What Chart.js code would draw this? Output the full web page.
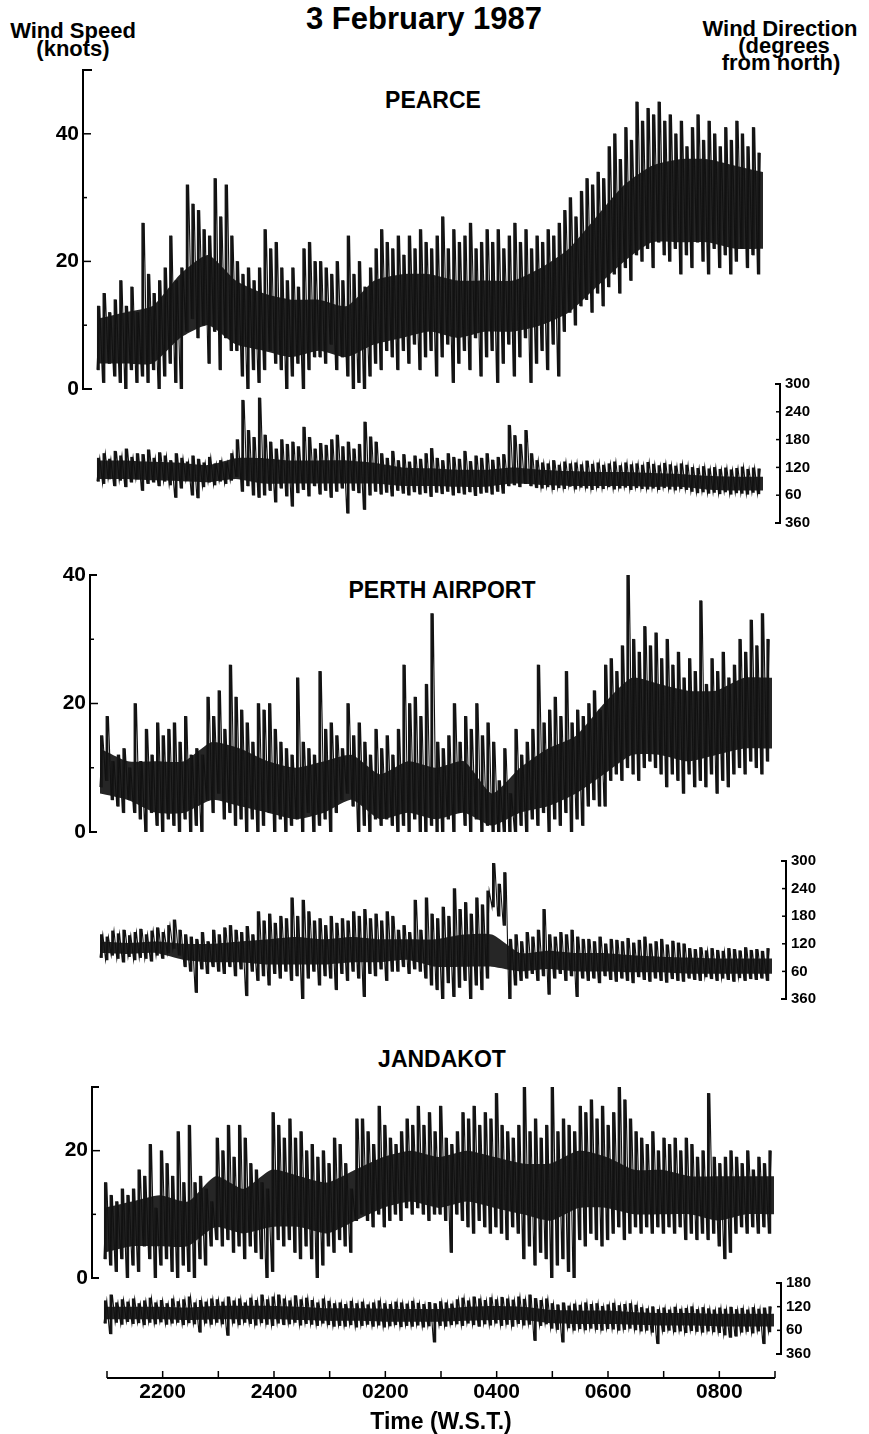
<!DOCTYPE html>
<html><head><meta charset="utf-8">
<script src="https://cdn.jsdelivr.net/npm/chart.js@4.4.0/dist/chart.umd.min.js"></script>
<style>
html,body{margin:0;padding:0;background:#fff;}
body{width:869px;height:1434px;position:relative;overflow:hidden;font-family:"Liberation Sans",Arial,sans-serif;font-weight:bold;color:#000;}
canvas{position:absolute;left:0;}
.t{position:absolute;white-space:nowrap;transform:translateX(-50%);line-height:1;}
</style></head><body>
<div class="t" style="left:424px;top:3px;font-size:31px">3 February 1987</div>
<div class="t" style="left:73px;top:20px;font-size:22px">Wind Speed</div>
<div class="t" style="left:73px;top:38px;font-size:22px">(knots)</div>
<div class="t" style="left:780px;top:18px;font-size:22px">Wind Direction</div>
<div class="t" style="left:784px;top:35px;font-size:22px">(degrees</div>
<div class="t" style="left:781px;top:52px;font-size:22px">from north)</div>
<div class="t" style="left:433px;top:89px;font-size:23px">PEARCE</div>
<div class="t" style="left:442px;top:579px;font-size:23px">PERTH AIRPORT</div>
<div class="t" style="left:442px;top:1048px;font-size:23px">JANDAKOT</div>

<canvas id="c1s" width="869" height="359" style="top:50px"></canvas>
<canvas id="c1d" width="869" height="179" style="top:364px"></canvas>
<canvas id="c2s" width="869" height="297" style="top:555px"></canvas>
<canvas id="c2d" width="869" height="178" style="top:841px"></canvas>
<canvas id="c3s" width="869" height="231" style="top:1067px"></canvas>
<canvas id="c3d" width="869" height="111" style="top:1263px"></canvas>
<canvas id="ct" width="869" height="94" style="top:1340px"></canvas>

<script>
// ---- time span of the records (hours; 24 = midnight, 33 = 0900 next day)
const startHour = 21, endHour = 33;

// ---- time axis
const timeAxisHours = [21,22,23,24,25,26,27,28,29,30,31,32,33];
const timeTickHours = [22,24,26,28,30,32];
const timeTickLabels = ['2200','2400','0200','0400','0600','0800'];

// ---- axis tick values
const pearceSpeedLabels = [0,20,40];
const pearceSpeedMinor = [10,30];
const perthSpeedLabels = [0,20,40];
const perthSpeedMinor = [10,30];
const jandakotSpeedLabels = [0,20];
const jandakotSpeedMinor = [10];
const dirTicks300 = [60,120,180,240];
const dirTicks180 = [60,120];

// ---- PEARCE wind speed (knots), per 6-minute bin: low and high of the trace
const pearceSpeedHi = [13,15,12,14,17,13,16,12,26,18, 15,17,19,24,17,19,32,29,28,25,
 24,33,27,32,24,20,18,19,17,19, 25,22,23,19,17,19,16,22,23,20, 20,19,18,20,17,24,18,20,16,19,
 22,25,23,22,24,21,24,22,25,23, 22,24,27,22,25,23,24,26,22,23, 25,23,25,22,24,26,23,25,22,24,
 23,25,24,26,28,30,27,31,33,32, 34,33,38,40,36,41,39,45,42,44, 43,45,42,43,40,42,38,41,43,39,
 42,40,38,41,39,42,40,38,41,37];
const pearceSpeedLo = [3,1,4,2,1,0,3,1,2,1, 3,0,2,4,1,0,9,11,8,10, 4,9,3,8,6,6,2,0,3,1,
 3,6,4,3,0,2,4,0,3,5, 5,4,7,3,5,2,0,1,0,2, 4,3,6,5,3,6,4,7,3,5, 6,2,5,7,1,4,6,3,8,2,
 5,6,1,4,7,2,5,8,1,4, 6,3,7,2,9,12,10,13,14,12, 15,13,16,18,15,19,17,21,20,22,
 19,23,21,20,22,18,21,19,23,20, 18,22,19,21,18,20,22,19,21,18];
// dense core of the trace, every 30 minutes from 2100 to 0900
const pearceSpeedCoreLo = [4,4,4,8,10,7,6,5,6,5,7,8,9,8,9,9,10,12,16,20,23,23,23,22,22];
const pearceSpeedCoreHi = [11,12,13,18,21,17,15,14,14,13,17,18,18,17,17,17,19,22,27,32,35,36,36,35,34];

// ---- PEARCE wind direction (degrees)
const pearceDirHi = [140,150,138,155,145,160,142,150,148,158, 140,152,145,135,150,140,132,145,138,130,
 142,128,135,130,150,180,265,200,185,270, 190,175,160,180,170,175,165,207,185,160,
 172,168,180,190,165,175,160,170,218,186, 175,150,140,155,135,148,132,145,138,150,
 161,140,135,150,142,138,155,133,145,140, 150,136,142,148,211,189,170,200,150,135,
 130,128,135,125,132,128,130,126,134,127, 130,125,128,132,124,130,126,128,125,131,
 127,124,129,126,123,128,125,120,118,122, 117,120,116,119,115,118,121,116,119,117];
const pearceDirLo = [90,85,95,80,92,78,88,95,70,85, 88,80,90,82,55,75,92,60,54,78,
 88,82,90,85,92,100,68,80,60,55, 60,70,45,75,58,36,65,72,58,80,
 62,70,55,68,75,21,70,65,29,60, 68,62,66,58,70,64,60,67,62,65,
 57,66,63,68,60,65,62,67,59,64, 66,62,68,64,80,82,78,85,80,76,
 75,78,72,76,74,79,73,77,75,72, 76,74,78,73,75,77,72,76,74,73,
 75,72,76,73,71,74,72,68,65,67, 64,66,63,67,62,65,64,62,66,63];
const pearceDirCoreLo = [95,95,92,90,88,95,85,85,85,85,85,80,80,78,78,85,82,80,80,80,78,78,72,70,70];
const pearceDirCoreHi = [135,135,132,130,125,140,140,135,135,135,130,120,118,115,115,120,115,112,110,110,108,106,102,100,100];

// ---- PERTH AIRPORT wind speed (knots)
const perthSpeedHi = [15,18,11,12,13,10,20,11,16,12, 17,15,16,17,14,18,12,13,12,21,
 18,22,16,26,21,19,17,14,20,19, 20,16,14,13,12,24,14,13,12,25,
 16,17,15,13,20,15,17,14,12,16, 13,15,12,16,26,20,21,18,23,34,
 14,13,15,20,14,18,16,20,15,17, 14,8,13,6,16,12,14,16,26,17,
 19,21,18,25,17,19,18,20,22,19, 26,27,25,29,40,30,28,32,29,31,
 27,30,26,28,24,27,25,36,23,27, 25,28,24,26,30,28,33,29,34,30];
const perthSpeedLo = [7,8,5,4,3,5,3,2,0,3, 1,0,2,1,0,2,0,1,0,5, 3,6,2,3,1,2,0,2,0,1,
 3,0,2,0,1,2,0,3,0,1, 2,0,3,5,6,4,0,1,0,2, 1,2,1,0,1,0,2,0,0,1,
 0,0,2,0,3,1,0,2,0,1, 0,0,0,0,0,1,0,2,1,3, 0,2,1,3,0,2,1,4,5,4,
 4,8,9,8,10,9,8,10,11,10, 9,7,9,8,6,9,7,8,7,9, 6,8,7,9,10,9,11,10,9,11];
const perthSpeedCoreLo = [6,5,3,3,5,4,3,2,3,5,2,3,2,3,1,3,4,6,9,12,12,11,12,13,13];
const perthSpeedCoreHi = [13,11,11,11,14,13,11,10,11,12,9,11,10,11,6,10,13,15,20,24,23,22,22,24,24];

// ---- PERTH AIRPORT wind direction (degrees)
const perthDirHi = [140,135,148,142,150,138,145,152,140,148, 155,145,160,172,150,140,135,130,145,125,
 150,140,155,160,150,145,158,140,190,170, 185,165,180,175,220,180,215,190,170,175,
 160,180,165,175,170,190,180,195,175,185, 170,190,180,150,160,145,215,150,220,185,
 175,200,180,240,195,210,185,220,205,235, 295,250,275,130,140,125,145,135,150,195,
 140,135,145,140,150,135,130,130,125,135, 120,130,128,125,132,122,128,135,120,125,
 130,118,126,122,120,110,108,112,105,110, 106,104,110,108,105,112,106,108,104,110];
const perthDirLo = [90,85,95,88,80,92,85,90,88,82, 95,88,100,110,95,70,60,14,65,55,
 70,60,55,70,50,65,7,60,40,50, 30,55,45,60,40,50,0,45,60,30,
 50,45,20,55,40,60,45,5,55,50, 65,40,60,60,70,55,65,60,45,30,
 20,0,35,5,25,40,0,30,20,45, 200,180,160,0,30,40,45,55,40,50,
 10,45,55,40,50,5,45,40,45,35, 50,42,38,45,40,35,48,42,38,45,
 40,36,44,40,38,45,42,40,48,44, 40,45,42,38,46,40,44,42,45,40];
const perthDirCoreLo = [100,98,100,85,80,80,75,75,75,80,80,85,70,70,70,60,65,60,60,58,58,55,55,55,55];
const perthDirCoreHi = [125,122,125,120,120,125,130,135,130,135,130,130,130,140,140,100,105,100,100,95,92,90,88,88,88];

// ---- JANDAKOT wind speed (knots)
const jandakotSpeedHi = [15,13,12,14,13,14,17,16,21,11, 20,18,16,23,15,24,15,16,14,12,
 22,20,24,19,24,22,18,17,15,14, 26,24,22,25,22,23,20,21,19,20,
 18,22,21,18,14,25,25,23,21,27, 24,22,21,23,25,24,27,24,26,23,
 27,22,21,23,26,25,27,24,26,25, 29,24,23,22,24,30,23,25,22,24,
 30,23,25,24,23,27,26,28,25,27, 24,26,30,28,25,23,22,21,23,20,
 22,21,22,20,22,21,19,20,29,19, 18,19,20,19,18,20,17,19,18,20];
const jandakotSpeedLo = [3,2,1,3,0,2,1,5,3,0, 2,3,1,0,2,1,0,3,2,5, 6,5,6,4,5,3,5,4,3,0,
 1,6,5,6,4,3,5,3,0,2, 5,4,6,5,4,9,10,9,8,10, 8,9,10,9,11,10,11,10,9,10,
 10,9,4,10,9,8,7,9,8,7, 8,7,6,8,7,3,5,2,4,3, 0,2,3,1,0,6,5,7,6,5,
 6,7,8,6,7,8,7,8,7,8, 7,8,7,8,6,7,6,7,6,7, 5,3,4,7,8,7,8,7,8,7];
const jandakotSpeedCoreLo = [4,5,5,5,8,7,8,8,7,9,11,12,11,12,11,10,9,11,11,10,10,10,9,10,10];
const jandakotSpeedCoreHi = [11,12,13,12,16,14,17,16,15,17,19,20,19,20,19,18,18,20,19,17,17,16,16,16,16];

// ---- JANDAKOT wind direction (degrees)
const jandakotDirHi = [135,150,130,138,132,140,128,135,142,130, 136,128,140,133,138,145,130,136,132,140,
 138,132,145,135,140,130,142,136,150,138, 145,150,140,135,148,138,142,136,130,140,
 134,128,130,126,134,128,132,125,130,135, 128,126,132,130,127,134,129,126,131,128,
 133,130,127,138,142,135,145,140,136,143, 138,144,140,137,145,139,150,141,136,140,
 128,125,130,122,127,124,130,126,128,121, 125,129,123,126,128,124,118,115,120,113,
 117,112,119,114,116,120,113,118,115,112, 117,114,119,113,116,112,118,114,117,120];
const jandakotDirLo = [78,51,80,75,82,77,79,74,80,76, 81,75,78,80,74,79,76,55,78,75,
 80,76,47,78,74,80,77,73,79,75, 72,78,74,76,80,73,77,75,72,78,
 74,70,72,70,74,68,72,75,70,73, 68,71,74,69,72,70,73,68,71,30,
 72,70,74,76,72,78,74,70,76,73, 78,72,75,70,77,73,75,34,72,76,
 65,62,30,66,60,64,61,65,62,60, 64,63,60,62,65,61,58,60,55,26,
 57,60,56,58,54,59,57,55,58,56, 54,48,42,45,55,57,53,58,26,56];
const jandakotDirCoreLo = [88,88,88,86,88,88,88,86,84,84,82,82,82,84,86,86,78,76,76,74,72,72,70,70,70];
const jandakotDirCoreHi = [120,120,120,118,122,122,122,120,116,116,115,114,114,120,122,120,112,110,110,106,104,104,102,102,102];

// trace: low then high value inside each bin
function trace(lo, hi) {
  const n = Math.min(lo.length, hi.length), step = (endHour - startHour) / n, pts = [];
  for (let i = 0; i < n; i++) {
    pts.push({x: startHour + i * step, y: lo[i]});
    pts.push({x: startHour + (i + 0.5) * step, y: hi[i]});
  }
  return pts;
}
// range of each bin as a floating bar
function ranges(lo, hi) {
  const n = Math.min(lo.length, hi.length), step = (endHour - startHour) / n, pts = [];
  for (let i = 0; i < n; i++) pts.push({x: startHour + (i + 0.25) * step, y: [lo[i], hi[i]]});
  return pts;
}
// core samples, evenly spaced from start to end
function core(vals) {
  const step = (endHour - startHour) / (vals.length - 1);
  return vals.map((v, i) => ({x: startHour + i * step, y: v}));
}

Chart.defaults.font.family = '"Liberation Sans", Arial, sans-serif';
Chart.defaults.color = '#000';

const axisDeco = {
  id: 'axisDeco',
  afterDraw(chart, args, o) {
    if (!o || !o.side) return;
    const ctx = chart.ctx, a = chart.chartArea;
    ctx.save();
    ctx.strokeStyle = '#000';
    if (o.side === 'bottom') {
      const s = chart.scales.x, y = a.bottom;
      ctx.lineWidth = 2;
      ctx.beginPath(); ctx.moveTo(a.left, y); ctx.lineTo(a.right, y); ctx.stroke();
      ctx.lineWidth = 1.5;
      o.marks.forEach(v => { const x = s.getPixelForValue(v); ctx.beginPath(); ctx.moveTo(x, y); ctx.lineTo(x, y - 7); ctx.stroke(); });
    } else {
      const s = chart.scales.y;
      const x = o.side === 'left' ? a.left : a.right, dir = o.side === 'left' ? 1 : -1;
      const yT = s.getPixelForValue(s.max), yB = s.getPixelForValue(s.min);
      ctx.lineWidth = 2;
      ctx.beginPath();
      ctx.moveTo(x + dir * o.cap, yT); ctx.lineTo(x, yT); ctx.lineTo(x, yB); ctx.lineTo(x + dir * o.cap, yB);
      ctx.stroke();
      ctx.lineWidth = 1.5;
      (o.major || []).forEach(v => { const y = s.getPixelForValue(v); ctx.beginPath(); ctx.moveTo(x, y); ctx.lineTo(x + dir * o.majorLen, y); ctx.stroke(); });
      (o.minor || []).forEach(v => { const y = s.getPixelForValue(v); ctx.beginPath(); ctx.moveTo(x, y); ctx.lineTo(x + dir * o.minorLen, y); ctx.stroke(); });
    }
    ctx.restore();
  }
};
Chart.register(axisDeco);

function panel(id, cfg) {
  const left = cfg.side === 'left';
  new Chart(document.getElementById(id), {
    type: 'line',
    data: {datasets: [
      {type: 'line', data: core(cfg.coreLo), borderWidth: 0, borderColor: 'rgba(0,0,0,0)', pointRadius: 0, tension: 0.2, fill: false, order: 3},
      {type: 'line', data: core(cfg.coreHi), borderWidth: 0, borderColor: 'rgba(0,0,0,0)', pointRadius: 0, tension: 0.2, fill: '-1', backgroundColor: '#262626', order: 3},
      {type: 'bar', data: ranges(cfg.lo, cfg.hi), backgroundColor: '#161616', borderWidth: 0, barThickness: 2.2, grouped: false, order: 2},
      {type: 'line', data: trace(cfg.lo, cfg.hi), borderColor: '#111', borderWidth: 1.1, pointRadius: 0, tension: 0, fill: false, order: 1}
    ]},
    options: {
      responsive: false, animation: false, events: [],
      layout: {padding: {top: 20, bottom: 20, left: left ? 0 : cfg.areaL, right: left ? 869 - cfg.areaR : 0}},
      plugins: {legend: {display: false}, tooltip: {enabled: false}, filler: {propagate: false},
        axisDeco: {side: cfg.side, cap: cfg.cap, major: cfg.major, minor: cfg.minor, majorLen: cfg.majorLen, minorLen: cfg.minorLen}},
      scales: {
        x: {type: 'linear', min: cfg.xmin, max: cfg.xmax, offset: false, display: false},
        y: {position: cfg.side, min: 0, max: cfg.ymax,
          grid: {display: false, drawTicks: false}, border: {display: false},
          ticks: {stepSize: cfg.step, padding: cfg.labelPad, font: {size: cfg.fontSize, weight: 'bold'},
            callback: cfg.labelFn},
          afterFit: s => { s.width = left ? cfg.areaL : 869 - cfg.areaR; }}
      }
    }
  });
}

const speedLabel = labels => v => labels.includes(v) ? String(v) : '';
const dirLabel = v => v === 0 ? '360' : String(v);

// PEARCE
panel('c1s', {side: 'left', areaL: 83, areaR: 780, xmin: 20.7477, xmax: 33.3063, ymax: 50, step: 10,
  lo: pearceSpeedLo, hi: pearceSpeedHi, coreLo: pearceSpeedCoreLo, coreHi: pearceSpeedCoreHi,
  labelFn: speedLabel(pearceSpeedLabels), fontSize: 21, labelPad: 4,
  cap: 9, major: [20, 40], minor: pearceSpeedMinor, majorLen: 8, minorLen: 4});
panel('c1d', {side: 'right', areaL: 83, areaR: 780, xmin: 20.7477, xmax: 33.3063, ymax: 300, step: 60,
  lo: pearceDirLo, hi: pearceDirHi, coreLo: pearceDirCoreLo, coreHi: pearceDirCoreHi,
  labelFn: dirLabel, fontSize: 15, labelPad: 5,
  cap: 5, major: dirTicks300, minor: [], majorLen: 4, minorLen: 0});
// PERTH AIRPORT
panel('c2s', {side: 'left', areaL: 90, areaR: 786, xmin: 20.8214, xmax: 33.25, ymax: 40, step: 10,
  lo: perthSpeedLo, hi: perthSpeedHi, coreLo: perthSpeedCoreLo, coreHi: perthSpeedCoreHi,
  labelFn: speedLabel(perthSpeedLabels), fontSize: 21, labelPad: 4,
  cap: 7, major: [20], minor: perthSpeedMinor, majorLen: 8, minorLen: 4});
panel('c2d', {side: 'right', areaL: 90, areaR: 786, xmin: 20.8214, xmax: 33.25, ymax: 300, step: 60,
  lo: perthDirLo, hi: perthDirHi, coreLo: perthDirCoreLo, coreHi: perthDirCoreHi,
  labelFn: dirLabel, fontSize: 15, labelPad: 5,
  cap: 5, major: dirTicks300, minor: [], majorLen: 4, minorLen: 0});
// JANDAKOT
panel('c3s', {side: 'left', areaL: 92, areaR: 781, xmin: 20.7851, xmax: 33.1254, ymax: 30, step: 10,
  lo: jandakotSpeedLo, hi: jandakotSpeedHi, coreLo: jandakotSpeedCoreLo, coreHi: jandakotSpeedCoreHi,
  labelFn: speedLabel(jandakotSpeedLabels), fontSize: 21, labelPad: 4,
  cap: 7, major: [20], minor: jandakotSpeedMinor, majorLen: 8, minorLen: 4});
panel('c3d', {side: 'right', areaL: 92, areaR: 781, xmin: 20.7851, xmax: 33.1254, ymax: 180, step: 60,
  lo: jandakotDirLo, hi: jandakotDirHi, coreLo: jandakotDirCoreLo, coreHi: jandakotDirCoreHi,
  labelFn: dirLabel, fontSize: 15, labelPad: 5,
  cap: 5, major: dirTicks180, minor: [], majorLen: 4, minorLen: 0});

// Time axis
new Chart(document.getElementById('ct'), {
  type: 'line',
  data: {datasets: []},
  options: {
    responsive: false, animation: false, events: [],
    layout: {padding: {top: 10, bottom: 0, left: 107, right: 869 - 775}},
    plugins: {legend: {display: false}, tooltip: {enabled: false}, axisDeco: {side: 'bottom', marks: timeAxisHours}},
    scales: {
      y: {display: false, min: 0, max: 1},
      x: {type: 'linear', min: startHour, max: endHour, position: 'bottom',
        grid: {display: false, drawTicks: false}, border: {display: false},
        ticks: {stepSize: 1, autoSkip: false, maxRotation: 0, minRotation: 0, padding: 2,
          font: {size: 21, weight: 'bold'},
          callback: v => { const i = timeTickHours.indexOf(v); return i >= 0 ? timeTickLabels[i] : ''; }},
        title: {display: true, text: 'Time (W.S.T.)', font: {size: 23, weight: 'bold', lineHeight: 1}, padding: 0},
        afterFit: s => { s.height = 56; }}
    }
  }
});
</script>
</body></html>
